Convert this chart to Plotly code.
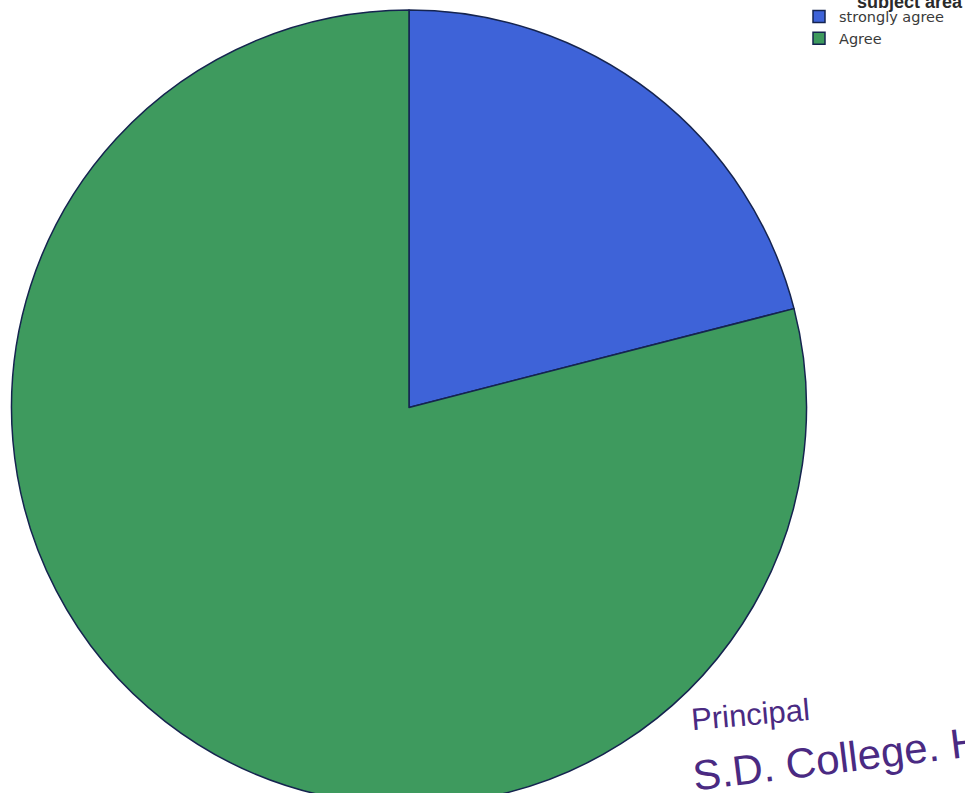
import plotly.graph_objects as go

labels = ["strongly agree", "Agree"]
values = [21, 79]
colors = ["#3e63d8", "#3e9a5e"]

W, H = 965, 805

fig = go.Figure()
fig.add_trace(go.Pie(
    labels=labels,
    values=values,
    sort=False,
    direction="clockwise",
    rotation=0,
    textinfo="none",
    hoverinfo="label+percent",
    marker=dict(colors=colors, line=dict(color="#15244f", width=1.5)),
    domain=dict(x=[9 / W, 809 / W], y=[0.0, 1.0]),
))

fig.update_layout(
    width=W,
    height=H,
    autosize=False,
    margin=dict(l=0, r=0, t=5, b=0),
    paper_bgcolor="white",
    plot_bgcolor="white",
    legend=dict(
        x=799 / W, y=1.012, xanchor="left", yanchor="top",
        font=dict(family="DejaVu Sans", size=14.5, color="#3a3a3a"),
        bgcolor="rgba(0,0,0,0)",
        tracegroupgap=0,
        itemwidth=30,
    ),
    annotations=[
        dict(text="<b>subject area</b>", x=1.0, y=1.0, xref="paper", yref="paper",
             xanchor="right", yanchor="bottom", yshift=-4, showarrow=False,
             font=dict(family="Liberation Sans", size=18, color="#2a2a2a")),
        dict(text="Principal", x=688 / W, y=1 - (714 - 5) / (H - 5), xref="paper", yref="paper",
             xanchor="left", yanchor="middle", showarrow=False, textangle=-5,
             font=dict(family="Liberation Sans", size=31, color="#4a2a82")),
        dict(text="S.D. College. H", x=688 / W, y=1 - (758 - 5) / (H - 5), xref="paper", yref="paper",
             xanchor="left", yanchor="middle", showarrow=False, textangle=-7,
             font=dict(family="Liberation Sans", size=42, color="#4a2a82")),
    ],
)

fig.write_html(
    "out.html",
    config={"displayModeBar": False},
    post_script="document.body.style.margin='0';document.body.style.overflow='hidden';",
)
